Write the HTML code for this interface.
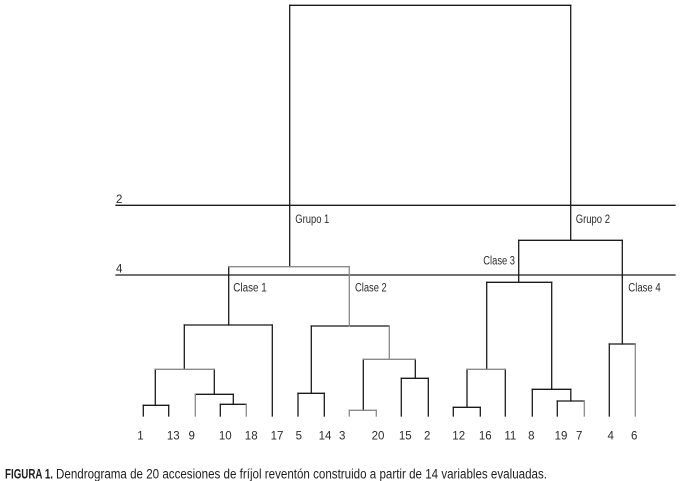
<!DOCTYPE html>
<html>
<head>
<meta charset="utf-8">
<style>
html,body{margin:0;padding:0;background:#fff;}
svg{display:block;}
text{font-family:"Liberation Sans Narrow","Liberation Sans",sans-serif;fill:#2a2a2a;}
</style>
</head>
<body>
<svg width="680" height="481" viewBox="0 0 680 481" xmlns="http://www.w3.org/2000/svg">
<g fill="none" stroke-linecap="square" stroke-width="1.3">
<!-- reference lines -->
<g stroke="#1e1e1e">
<line x1="116" y1="205.3" x2="675" y2="205.3"/>
<line x1="116" y1="275" x2="675" y2="275"/>
</g>
<!-- black segments -->
<g stroke="#1a1a1a">
<!-- top -->
<line x1="289.7" y1="5.3" x2="570.7" y2="5.3"/>
<line x1="289.7" y1="5.3" x2="289.7" y2="266.7"/>
<line x1="570.7" y1="5.3" x2="570.7" y2="240.3"/>
<!-- Clase 1 -->
<line x1="143.3" y1="416" x2="143.3" y2="405.3"/>
<line x1="168.7" y1="416" x2="168.7" y2="405.3"/>
<line x1="143.3" y1="405.3" x2="168.7" y2="405.3"/>
<line x1="220.3" y1="416" x2="220.3" y2="404.3"/>
<line x1="220.3" y1="404.3" x2="246.3" y2="404.3"/>
<line x1="233.3" y1="404.3" x2="233.3" y2="394.3"/>
<line x1="195.3" y1="394.3" x2="233.3" y2="394.3"/>
<line x1="155.3" y1="405.3" x2="155.3" y2="369.3"/>
<line x1="214.3" y1="394.3" x2="214.3" y2="369.3"/>
<line x1="184.3" y1="369.3" x2="184.3" y2="325"/>
<line x1="272.3" y1="416" x2="272.3" y2="325"/>
<line x1="184.3" y1="325" x2="272.3" y2="325"/>
<line x1="228.7" y1="325" x2="228.7" y2="266.7"/>
<!-- Clase 2 -->
<line x1="298" y1="416" x2="298" y2="393.3"/>
<line x1="324.3" y1="416" x2="324.3" y2="393.3"/>
<line x1="298" y1="393.3" x2="324.3" y2="393.3"/>
<line x1="401.3" y1="416" x2="401.3" y2="378.3"/>
<line x1="428.3" y1="416" x2="428.3" y2="378.3"/>
<line x1="401.3" y1="378.3" x2="428.3" y2="378.3"/>
<line x1="363.3" y1="410.3" x2="363.3" y2="359.3"/>
<line x1="415.3" y1="378.3" x2="415.3" y2="359.3"/>
<line x1="311.3" y1="393.3" x2="311.3" y2="326"/>
<line x1="311.3" y1="326" x2="389.3" y2="326"/>
<!-- Clase 3 -->
<line x1="453.3" y1="416" x2="453.3" y2="407.3"/>
<line x1="480.3" y1="416" x2="480.3" y2="407.3"/>
<line x1="453.3" y1="407.3" x2="480.3" y2="407.3"/>
<line x1="467" y1="407.3" x2="467" y2="369.3"/>
<line x1="505.3" y1="416" x2="505.3" y2="369.3"/>
<line x1="486.7" y1="369.3" x2="486.7" y2="282.3"/>
<line x1="557.3" y1="416" x2="557.3" y2="401"/>
<line x1="557.3" y1="401" x2="584.3" y2="401"/>
<line x1="570.8" y1="401" x2="570.8" y2="389.3"/>
<line x1="532.3" y1="416" x2="532.3" y2="389.3"/>
<line x1="532.3" y1="389.3" x2="570.8" y2="389.3"/>
<line x1="551.7" y1="389.3" x2="551.7" y2="282.3"/>
<line x1="486.7" y1="282.3" x2="551.7" y2="282.3"/>
<line x1="518.7" y1="282.3" x2="518.7" y2="240.3"/>
<!-- Clase 4 -->
<line x1="609.3" y1="416" x2="609.3" y2="344"/>
<line x1="609.3" y1="344" x2="635.3" y2="344"/>
<line x1="622.3" y1="344" x2="622.3" y2="240.3"/>
<line x1="518.7" y1="240.3" x2="622.3" y2="240.3"/>
</g>
<!-- gray segments -->
<g stroke="#8a8a8a">
<line x1="228.7" y1="266.7" x2="349.3" y2="266.7"/>
<line x1="349.3" y1="266.7" x2="349.3" y2="326"/>
<line x1="246.3" y1="416" x2="246.3" y2="404.3"/>
<line x1="195.3" y1="416" x2="195.3" y2="394.3"/>
<line x1="155.3" y1="369.3" x2="214.3" y2="369.3"/>
<line x1="349.3" y1="416" x2="349.3" y2="410.3"/>
<line x1="376.3" y1="416" x2="376.3" y2="410.3"/>
<line x1="349.3" y1="410.3" x2="376.3" y2="410.3"/>
<line x1="363.3" y1="359.3" x2="415.3" y2="359.3"/>
<line x1="389.3" y1="359.3" x2="389.3" y2="326"/>
<line x1="467" y1="369.3" x2="505.3" y2="369.3"/>
<line x1="584.3" y1="416" x2="584.3" y2="401"/>
<line x1="635.3" y1="416" x2="635.3" y2="344"/>
</g>
</g>

<!-- level labels -->
<g font-size="11.5">
<text x="116" y="203">2</text>
<text x="116" y="272.5">4</text>
<text x="295.3" y="223" textLength="34" lengthAdjust="spacingAndGlyphs">Grupo 1</text>
<text x="575.7" y="223" textLength="34.3" lengthAdjust="spacingAndGlyphs">Grupo 2</text>
<text x="233.3" y="291.5" textLength="33.4" lengthAdjust="spacingAndGlyphs">Clase 1</text>
<text x="355" y="291.5" textLength="31.7" lengthAdjust="spacingAndGlyphs">Clase 2</text>
<text x="483.3" y="264.3" textLength="31.7" lengthAdjust="spacingAndGlyphs">Clase 3</text>
<text x="628.3" y="291.5" textLength="32.4" lengthAdjust="spacingAndGlyphs">Clase 4</text>
</g>

<!-- leaf labels -->
<g font-size="11.5" text-anchor="middle">
<text x="140.5" y="439.5">1</text>
<text x="173.3" y="439.5">13</text>
<text x="191.7" y="439.5">9</text>
<text x="225.3" y="439.5">10</text>
<text x="251.2" y="439.5">18</text>
<text x="277" y="439.5">17</text>
<text x="298.8" y="439.5">5</text>
<text x="325" y="439.5">14</text>
<text x="342.2" y="439.5">3</text>
<text x="378" y="439.5">20</text>
<text x="405.3" y="439.5">15</text>
<text x="427.2" y="439.5">2</text>
<text x="458.7" y="439.5">12</text>
<text x="485.3" y="439.5">16</text>
<text x="510.3" y="439.5">11</text>
<text x="531.3" y="439.5">8</text>
<text x="561" y="439.5">19</text>
<text x="579.2" y="439.5">7</text>
<text x="610.7" y="439.5">4</text>
<text x="634.2" y="439.5">6</text>
</g>

<!-- caption -->
<text x="5" y="478.3" font-size="13.5" font-weight="bold" textLength="48" lengthAdjust="spacingAndGlyphs" style="fill:#1e1e1e">FIGURA 1.</text>
<text x="56" y="478.3" font-size="13.5" textLength="491" lengthAdjust="spacingAndGlyphs" style="fill:#1e1e1e">Dendrograma de 20 accesiones de fríjol reventón construido a partir de 14 variables evaluadas.</text>
</svg>
</body>
</html>
